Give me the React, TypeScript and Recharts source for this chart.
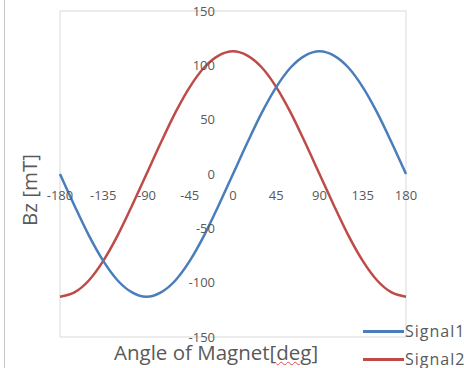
import React from 'react';
import { LineChart, Line, XAxis, YAxis, CartesianGrid, ReferenceDot } from 'recharts';

const angles = [-180, -165, -150, -135, -120, -105, -90, -75, -60, -45, -30, -15, 0, 15, 30, 45, 60, 75, 90, 105, 120, 135, 150, 165, 180];
const signal1 = [0, -29, -56.5, -80, -98, -109, -113, -109, -98, -80, -56.5, -29, 0, 29, 56.5, 80, 98, 109, 113, 109, 98, 80, 56.5, 29, 0];
const signal2 = [-113, -109, -98, -80, -56.5, -29, 0, 29, 56.5, 80, 98, 109, 113, 109, 98, 80, 56.5, 29, 0, -29, -56.5, -80, -98, -109, -113];
const xTicks = [-180, -135, -90, -45, 0, 45, 90, 135, 180];
const yTicks = [-150, -100, -50, 0, 50, 100, 150];
const seriesNames = ['Signal1', 'Signal2'];
const xTitleMain = 'Angle of Magnet[';
const xTitleUnit = 'deg';
const xTitleEnd = ']';
const yTitle = 'Bz [mT]';

const data = angles.map((a, i) => ({ angle: a, s1: signal1[i], s2: signal2[i] }));

const FONT = '"Open Sans", Lato, sans-serif';
const TXT = '#595959';
const BLUE = '#4a7ebb';
const RED = '#be4b48';

export default function App() {
  return (
    <div style={{ position: 'absolute', left: 0, top: 0, width: 464, height: 368, background: '#fff', fontFamily: FONT, overflow: 'hidden' }}>
      <div style={{ position: 'absolute', left: 4, top: 0, width: 1, height: 368, background: '#c8c8c8' }} />
      <LineChart width={464} height={368} data={data} margin={{ top: 11, right: 58, bottom: 31, left: 60 }}>
        <CartesianGrid stroke="#d9d9d9" strokeWidth={1} />
        <XAxis dataKey="angle" type="number" domain={[-180, 180]} ticks={xTicks} tick={false} tickLine={false} axisLine={false} height={0} />
        <YAxis type="number" domain={[-150, 150]} ticks={yTicks} tick={false} tickLine={false} axisLine={false} width={0} />
        {xTicks.map((t) => (
          <ReferenceDot key={'x' + t} x={t} y={0} r={0} fill="none" stroke="none" ifOverflow="visible"
            label={{ value: String(t), position: 'bottom', offset: 17, fill: TXT, fontSize: 13, fontFamily: FONT }} />
        ))}
        {yTicks.map((t) => (
          <ReferenceDot key={'y' + t} x={0} y={t} r={0} fill="none" stroke="none" ifOverflow="visible"
            label={{ value: String(t), position: 'left', offset: 18, fill: TXT, fontSize: 13, fontFamily: FONT }} />
        ))}
        <Line type="monotone" dataKey="s2" name={seriesNames[1]} stroke={RED} strokeWidth={2.5} dot={false} isAnimationActive={false} />
        <Line type="monotone" dataKey="s1" name={seriesNames[0]} stroke={BLUE} strokeWidth={2.5} dot={false} isAnimationActive={false} />
      </LineChart>
      <div style={{ position: 'absolute', left: 114, top: 343, fontSize: 20.5, lineHeight: '18px', color: TXT, whiteSpace: 'nowrap' }}>
        {xTitleMain}
        <span style={{ textDecoration: 'underline wavy #e05050', textDecorationThickness: 1 }}>{xTitleUnit}</span>
        {xTitleEnd}
      </div>
      <div style={{ position: 'absolute', left: 29, top: 190, transform: 'translate(-50%, -50%) rotate(-90deg)', fontSize: 20.5, color: TXT, whiteSpace: 'nowrap' }}>{yTitle}</div>
      {[BLUE, RED].map((c, i) => (
        <div key={i} style={{ position: 'absolute', left: 363, top: 331 - 10 + i * 28, height: 20, display: 'flex', alignItems: 'center', whiteSpace: 'nowrap' }}>
          <div style={{ width: 41, height: 3, background: c }} />
          <span style={{ marginLeft: 1, fontSize: 16, letterSpacing: 1, lineHeight: '20px', color: TXT }}>{seriesNames[i]}</span>
        </div>
      ))}
    </div>
  );
}
